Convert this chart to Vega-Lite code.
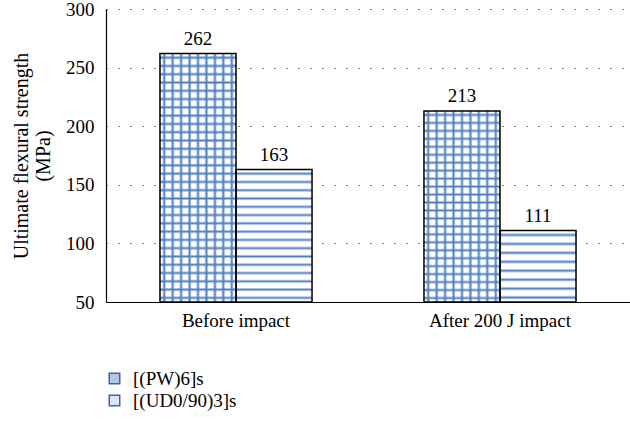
{
  "$schema": "https://vega.github.io/schema/vega-lite/v6.json",
  "autosize": "none",
  "width": 524,
  "height": 293,
  "padding": {"left": 106, "top": 9, "right": 0, "bottom": 124},
  "background": "white",
  "config": {
    "view": {"stroke": null},
    "font": "Liberation Serif",
    "axis": {"labelFont": "Liberation Serif", "titleFont": "Liberation Serif", "labelFontSize": 19, "titleFontSize": 20, "labelColor": "#000", "titleColor": "#000", "titleFontWeight": "normal", "domainColor": "#000", "domainWidth": 1.2, "ticks": false},
    "legend": {"labelFont": "Liberation Serif", "labelFontSize": 19, "labelColor": "#000"}
  },
  "data": {"values": [
    {"group": "Before impact", "series": "[(PW)6]s", "v": 262},
    {"group": "Before impact", "series": "[(UD0/90)3]s", "v": 163},
    {"group": "After 200 J impact", "series": "[(PW)6]s", "v": 213},
    {"group": "After 200 J impact", "series": "[(UD0/90)3]s", "v": 111}
  ]},
  "encoding": {
    "x": {"field": "group", "type": "nominal", "sort": ["Before impact", "After 200 J impact"], "scale": {"paddingInner": 0.424, "paddingOuter": 0.2045}, "axis": {"title": null, "labelAngle": 0, "labelPadding": 9, "domainColor": "#000"}},
    "xOffset": {"field": "series", "type": "nominal", "sort": ["[(PW)6]s", "[(UD0/90)3]s"], "scale": {"paddingInner": 0, "paddingOuter": 0}},
    "y": {"field": "v", "type": "quantitative", "scale": {"domain": [50, 300], "nice": false, "zero": false, "clamp": true}, "axis": {"values": [50, 100, 150, 200, 250, 300], "title": ["Ultimate flexural strength", "(MPa)"], "titlePadding": 12, "titleLineHeight": 22, "labelPadding": 12, "grid": true, "gridDash": [1, 11], "gridColor": "#000", "gridWidth": 1, "domain": true}}
  },
  "layer": [
    {
      "mark": {"type": "bar"},
      "encoding": {"fill": {"field": "series", "type": "nominal", "sort": ["[(PW)6]s", "[(UD0/90)3]s"], "scale": {"range": ["#b4c8e8", "#dce5f4"]}, "legend": {"title": null, "orient": "none", "legendX": -1, "legendY": 360, "symbolType": "square", "symbolSize": 110, "symbolStrokeColor": "#3b66a8", "symbolStrokeWidth": 1.5, "labelOffset": 9, "rowPadding": 2}}}
    },
    {
      "transform": [{"filter": "datum.v == 262"}],
      "mark": {"type": "bar", "fill": {"gradient": "linear", "x1": 0, "y1": 0, "x2": 0, "y2": 1, "stops": [
        {"offset": 0, "color": "#ffffff"},
        {"offset": 0.00833, "color": "#ffffff"}, {"offset": 0.01667, "color": "#4f7fc4"}, {"offset": 0.025, "color": "#ffffff"},
        {"offset": 0.04167, "color": "#ffffff"}, {"offset": 0.05, "color": "#4f7fc4"}, {"offset": 0.05833, "color": "#ffffff"},
        {"offset": 0.075, "color": "#ffffff"}, {"offset": 0.08333, "color": "#4f7fc4"}, {"offset": 0.09167, "color": "#ffffff"},
        {"offset": 0.10833, "color": "#ffffff"}, {"offset": 0.11667, "color": "#4f7fc4"}, {"offset": 0.125, "color": "#ffffff"},
        {"offset": 0.14167, "color": "#ffffff"}, {"offset": 0.15, "color": "#4f7fc4"}, {"offset": 0.15833, "color": "#ffffff"},
        {"offset": 0.175, "color": "#ffffff"}, {"offset": 0.18333, "color": "#4f7fc4"}, {"offset": 0.19167, "color": "#ffffff"},
        {"offset": 0.20833, "color": "#ffffff"}, {"offset": 0.21667, "color": "#4f7fc4"}, {"offset": 0.225, "color": "#ffffff"},
        {"offset": 0.24167, "color": "#ffffff"}, {"offset": 0.25, "color": "#4f7fc4"}, {"offset": 0.25833, "color": "#ffffff"},
        {"offset": 0.275, "color": "#ffffff"}, {"offset": 0.28333, "color": "#4f7fc4"}, {"offset": 0.29167, "color": "#ffffff"},
        {"offset": 0.30833, "color": "#ffffff"}, {"offset": 0.31667, "color": "#4f7fc4"}, {"offset": 0.325, "color": "#ffffff"},
        {"offset": 0.34167, "color": "#ffffff"}, {"offset": 0.35, "color": "#4f7fc4"}, {"offset": 0.35833, "color": "#ffffff"},
        {"offset": 0.375, "color": "#ffffff"}, {"offset": 0.38333, "color": "#4f7fc4"}, {"offset": 0.39167, "color": "#ffffff"},
        {"offset": 0.40833, "color": "#ffffff"}, {"offset": 0.41667, "color": "#4f7fc4"}, {"offset": 0.425, "color": "#ffffff"},
        {"offset": 0.44167, "color": "#ffffff"}, {"offset": 0.45, "color": "#4f7fc4"}, {"offset": 0.45833, "color": "#ffffff"},
        {"offset": 0.475, "color": "#ffffff"}, {"offset": 0.48333, "color": "#4f7fc4"}, {"offset": 0.49167, "color": "#ffffff"},
        {"offset": 0.50833, "color": "#ffffff"}, {"offset": 0.51667, "color": "#4f7fc4"}, {"offset": 0.525, "color": "#ffffff"},
        {"offset": 0.54167, "color": "#ffffff"}, {"offset": 0.55, "color": "#4f7fc4"}, {"offset": 0.55833, "color": "#ffffff"},
        {"offset": 0.575, "color": "#ffffff"}, {"offset": 0.58333, "color": "#4f7fc4"}, {"offset": 0.59167, "color": "#ffffff"},
        {"offset": 0.60833, "color": "#ffffff"}, {"offset": 0.61667, "color": "#4f7fc4"}, {"offset": 0.625, "color": "#ffffff"},
        {"offset": 0.64167, "color": "#ffffff"}, {"offset": 0.65, "color": "#4f7fc4"}, {"offset": 0.65833, "color": "#ffffff"},
        {"offset": 0.675, "color": "#ffffff"}, {"offset": 0.68333, "color": "#4f7fc4"}, {"offset": 0.69167, "color": "#ffffff"},
        {"offset": 0.70833, "color": "#ffffff"}, {"offset": 0.71667, "color": "#4f7fc4"}, {"offset": 0.725, "color": "#ffffff"},
        {"offset": 0.74167, "color": "#ffffff"}, {"offset": 0.75, "color": "#4f7fc4"}, {"offset": 0.75833, "color": "#ffffff"},
        {"offset": 0.775, "color": "#ffffff"}, {"offset": 0.78333, "color": "#4f7fc4"}, {"offset": 0.79167, "color": "#ffffff"},
        {"offset": 0.80833, "color": "#ffffff"}, {"offset": 0.81667, "color": "#4f7fc4"}, {"offset": 0.825, "color": "#ffffff"},
        {"offset": 0.84167, "color": "#ffffff"}, {"offset": 0.85, "color": "#4f7fc4"}, {"offset": 0.85833, "color": "#ffffff"},
        {"offset": 0.875, "color": "#ffffff"}, {"offset": 0.88333, "color": "#4f7fc4"}, {"offset": 0.89167, "color": "#ffffff"},
        {"offset": 0.90833, "color": "#ffffff"}, {"offset": 0.91667, "color": "#4f7fc4"}, {"offset": 0.925, "color": "#ffffff"},
        {"offset": 0.94167, "color": "#ffffff"}, {"offset": 0.95, "color": "#4f7fc4"}, {"offset": 0.95833, "color": "#ffffff"},
        {"offset": 0.975, "color": "#ffffff"}, {"offset": 0.98333, "color": "#4f7fc4"}, {"offset": 0.99167, "color": "#ffffff"},
        {"offset": 1, "color": "#ffffff"}
      ]}}
    },
    {
      "transform": [{"filter": "datum.v == 163"}],
      "mark": {"type": "bar", "fill": {"gradient": "linear", "x1": 0, "y1": 0, "x2": 0, "y2": 1, "stops": [
        {"offset": 0, "color": "#ffffff"},
        {"offset": 0.015625, "color": "#ffffff"}, {"offset": 0.03125, "color": "#4f7fc4"}, {"offset": 0.046875, "color": "#ffffff"},
        {"offset": 0.078125, "color": "#ffffff"}, {"offset": 0.09375, "color": "#4f7fc4"}, {"offset": 0.109375, "color": "#ffffff"},
        {"offset": 0.140625, "color": "#ffffff"}, {"offset": 0.15625, "color": "#4f7fc4"}, {"offset": 0.171875, "color": "#ffffff"},
        {"offset": 0.203125, "color": "#ffffff"}, {"offset": 0.21875, "color": "#4f7fc4"}, {"offset": 0.234375, "color": "#ffffff"},
        {"offset": 0.265625, "color": "#ffffff"}, {"offset": 0.28125, "color": "#4f7fc4"}, {"offset": 0.296875, "color": "#ffffff"},
        {"offset": 0.328125, "color": "#ffffff"}, {"offset": 0.34375, "color": "#4f7fc4"}, {"offset": 0.359375, "color": "#ffffff"},
        {"offset": 0.390625, "color": "#ffffff"}, {"offset": 0.40625, "color": "#4f7fc4"}, {"offset": 0.421875, "color": "#ffffff"},
        {"offset": 0.453125, "color": "#ffffff"}, {"offset": 0.46875, "color": "#4f7fc4"}, {"offset": 0.484375, "color": "#ffffff"},
        {"offset": 0.515625, "color": "#ffffff"}, {"offset": 0.53125, "color": "#4f7fc4"}, {"offset": 0.546875, "color": "#ffffff"},
        {"offset": 0.578125, "color": "#ffffff"}, {"offset": 0.59375, "color": "#4f7fc4"}, {"offset": 0.609375, "color": "#ffffff"},
        {"offset": 0.640625, "color": "#ffffff"}, {"offset": 0.65625, "color": "#4f7fc4"}, {"offset": 0.671875, "color": "#ffffff"},
        {"offset": 0.703125, "color": "#ffffff"}, {"offset": 0.71875, "color": "#4f7fc4"}, {"offset": 0.734375, "color": "#ffffff"},
        {"offset": 0.765625, "color": "#ffffff"}, {"offset": 0.78125, "color": "#4f7fc4"}, {"offset": 0.796875, "color": "#ffffff"},
        {"offset": 0.828125, "color": "#ffffff"}, {"offset": 0.84375, "color": "#4f7fc4"}, {"offset": 0.859375, "color": "#ffffff"},
        {"offset": 0.890625, "color": "#ffffff"}, {"offset": 0.90625, "color": "#4f7fc4"}, {"offset": 0.921875, "color": "#ffffff"},
        {"offset": 0.953125, "color": "#ffffff"}, {"offset": 0.96875, "color": "#4f7fc4"}, {"offset": 0.984375, "color": "#ffffff"},
        {"offset": 1, "color": "#ffffff"}
      ]}}
    },
    {
      "transform": [{"filter": "datum.v == 213"}],
      "mark": {"type": "bar", "fill": {"gradient": "linear", "x1": 0, "y1": 0, "x2": 0, "y2": 1, "stops": [
        {"offset": 0, "color": "#ffffff"},
        {"offset": 0.01042, "color": "#ffffff"}, {"offset": 0.02083, "color": "#4f7fc4"}, {"offset": 0.03125, "color": "#ffffff"},
        {"offset": 0.05208, "color": "#ffffff"}, {"offset": 0.0625, "color": "#4f7fc4"}, {"offset": 0.07292, "color": "#ffffff"},
        {"offset": 0.09375, "color": "#ffffff"}, {"offset": 0.10417, "color": "#4f7fc4"}, {"offset": 0.11458, "color": "#ffffff"},
        {"offset": 0.13542, "color": "#ffffff"}, {"offset": 0.14583, "color": "#4f7fc4"}, {"offset": 0.15625, "color": "#ffffff"},
        {"offset": 0.17708, "color": "#ffffff"}, {"offset": 0.1875, "color": "#4f7fc4"}, {"offset": 0.19792, "color": "#ffffff"},
        {"offset": 0.21875, "color": "#ffffff"}, {"offset": 0.22917, "color": "#4f7fc4"}, {"offset": 0.23958, "color": "#ffffff"},
        {"offset": 0.26042, "color": "#ffffff"}, {"offset": 0.27083, "color": "#4f7fc4"}, {"offset": 0.28125, "color": "#ffffff"},
        {"offset": 0.30208, "color": "#ffffff"}, {"offset": 0.3125, "color": "#4f7fc4"}, {"offset": 0.32292, "color": "#ffffff"},
        {"offset": 0.34375, "color": "#ffffff"}, {"offset": 0.35417, "color": "#4f7fc4"}, {"offset": 0.36458, "color": "#ffffff"},
        {"offset": 0.38542, "color": "#ffffff"}, {"offset": 0.39583, "color": "#4f7fc4"}, {"offset": 0.40625, "color": "#ffffff"},
        {"offset": 0.42708, "color": "#ffffff"}, {"offset": 0.4375, "color": "#4f7fc4"}, {"offset": 0.44792, "color": "#ffffff"},
        {"offset": 0.46875, "color": "#ffffff"}, {"offset": 0.47917, "color": "#4f7fc4"}, {"offset": 0.48958, "color": "#ffffff"},
        {"offset": 0.51042, "color": "#ffffff"}, {"offset": 0.52083, "color": "#4f7fc4"}, {"offset": 0.53125, "color": "#ffffff"},
        {"offset": 0.55208, "color": "#ffffff"}, {"offset": 0.5625, "color": "#4f7fc4"}, {"offset": 0.57292, "color": "#ffffff"},
        {"offset": 0.59375, "color": "#ffffff"}, {"offset": 0.60417, "color": "#4f7fc4"}, {"offset": 0.61458, "color": "#ffffff"},
        {"offset": 0.63542, "color": "#ffffff"}, {"offset": 0.64583, "color": "#4f7fc4"}, {"offset": 0.65625, "color": "#ffffff"},
        {"offset": 0.67708, "color": "#ffffff"}, {"offset": 0.6875, "color": "#4f7fc4"}, {"offset": 0.69792, "color": "#ffffff"},
        {"offset": 0.71875, "color": "#ffffff"}, {"offset": 0.72917, "color": "#4f7fc4"}, {"offset": 0.73958, "color": "#ffffff"},
        {"offset": 0.76042, "color": "#ffffff"}, {"offset": 0.77083, "color": "#4f7fc4"}, {"offset": 0.78125, "color": "#ffffff"},
        {"offset": 0.80208, "color": "#ffffff"}, {"offset": 0.8125, "color": "#4f7fc4"}, {"offset": 0.82292, "color": "#ffffff"},
        {"offset": 0.84375, "color": "#ffffff"}, {"offset": 0.85417, "color": "#4f7fc4"}, {"offset": 0.86458, "color": "#ffffff"},
        {"offset": 0.88542, "color": "#ffffff"}, {"offset": 0.89583, "color": "#4f7fc4"}, {"offset": 0.90625, "color": "#ffffff"},
        {"offset": 0.92708, "color": "#ffffff"}, {"offset": 0.9375, "color": "#4f7fc4"}, {"offset": 0.94792, "color": "#ffffff"},
        {"offset": 0.96875, "color": "#ffffff"}, {"offset": 0.97917, "color": "#4f7fc4"}, {"offset": 0.98958, "color": "#ffffff"},
        {"offset": 1, "color": "#ffffff"}
      ]}}
    },
    {
      "transform": [{"filter": "datum.v == 111"}],
      "mark": {"type": "bar", "fill": {"gradient": "linear", "x1": 0, "y1": 0, "x2": 0, "y2": 1, "stops": [
        {"offset": 0, "color": "#ffffff"},
        {"offset": 0.03125, "color": "#ffffff"}, {"offset": 0.0625, "color": "#4f7fc4"}, {"offset": 0.09375, "color": "#ffffff"},
        {"offset": 0.15625, "color": "#ffffff"}, {"offset": 0.1875, "color": "#4f7fc4"}, {"offset": 0.21875, "color": "#ffffff"},
        {"offset": 0.28125, "color": "#ffffff"}, {"offset": 0.3125, "color": "#4f7fc4"}, {"offset": 0.34375, "color": "#ffffff"},
        {"offset": 0.40625, "color": "#ffffff"}, {"offset": 0.4375, "color": "#4f7fc4"}, {"offset": 0.46875, "color": "#ffffff"},
        {"offset": 0.53125, "color": "#ffffff"}, {"offset": 0.5625, "color": "#4f7fc4"}, {"offset": 0.59375, "color": "#ffffff"},
        {"offset": 0.65625, "color": "#ffffff"}, {"offset": 0.6875, "color": "#4f7fc4"}, {"offset": 0.71875, "color": "#ffffff"},
        {"offset": 0.78125, "color": "#ffffff"}, {"offset": 0.8125, "color": "#4f7fc4"}, {"offset": 0.84375, "color": "#ffffff"},
        {"offset": 0.90625, "color": "#ffffff"}, {"offset": 0.9375, "color": "#4f7fc4"}, {"offset": 0.96875, "color": "#ffffff"},
        {"offset": 1, "color": "#ffffff"}
      ]}}
    },
    {
      "transform": [{"filter": "datum.series == '[(PW)6]s'"}],
      "mark": {"type": "bar", "fill": {"gradient": "linear", "x1": 0, "y1": 0, "x2": 1, "y2": 0, "stops": [
        {"offset": 0, "color": "rgba(79,127,196,0)"},
        {"offset": 0.02778, "color": "rgba(79,127,196,0)"}, {"offset": 0.05556, "color": "rgba(79,127,196,1)"}, {"offset": 0.08333, "color": "rgba(79,127,196,0)"},
        {"offset": 0.13889, "color": "rgba(79,127,196,0)"}, {"offset": 0.16667, "color": "rgba(79,127,196,1)"}, {"offset": 0.19444, "color": "rgba(79,127,196,0)"},
        {"offset": 0.25, "color": "rgba(79,127,196,0)"}, {"offset": 0.27778, "color": "rgba(79,127,196,1)"}, {"offset": 0.30556, "color": "rgba(79,127,196,0)"},
        {"offset": 0.36111, "color": "rgba(79,127,196,0)"}, {"offset": 0.38889, "color": "rgba(79,127,196,1)"}, {"offset": 0.41667, "color": "rgba(79,127,196,0)"},
        {"offset": 0.47222, "color": "rgba(79,127,196,0)"}, {"offset": 0.5, "color": "rgba(79,127,196,1)"}, {"offset": 0.52778, "color": "rgba(79,127,196,0)"},
        {"offset": 0.58333, "color": "rgba(79,127,196,0)"}, {"offset": 0.61111, "color": "rgba(79,127,196,1)"}, {"offset": 0.63889, "color": "rgba(79,127,196,0)"},
        {"offset": 0.69444, "color": "rgba(79,127,196,0)"}, {"offset": 0.72222, "color": "rgba(79,127,196,1)"}, {"offset": 0.75, "color": "rgba(79,127,196,0)"},
        {"offset": 0.80556, "color": "rgba(79,127,196,0)"}, {"offset": 0.83333, "color": "rgba(79,127,196,1)"}, {"offset": 0.86111, "color": "rgba(79,127,196,0)"},
        {"offset": 0.91667, "color": "rgba(79,127,196,0)"}, {"offset": 0.94444, "color": "rgba(79,127,196,1)"}, {"offset": 0.97222, "color": "rgba(79,127,196,0)"},
        {"offset": 1, "color": "rgba(79,127,196,0)"}
      ]}}
    },
    {
      "mark": {"type": "bar", "fill": "transparent", "stroke": "#000", "strokeWidth": 1.5}
    },
    {
      "mark": {"type": "text", "baseline": "bottom", "dy": -5, "fontSize": 19, "font": "Liberation Serif", "color": "#000"},
      "encoding": {"text": {"field": "v", "type": "quantitative"}}
    }
  ]
}
